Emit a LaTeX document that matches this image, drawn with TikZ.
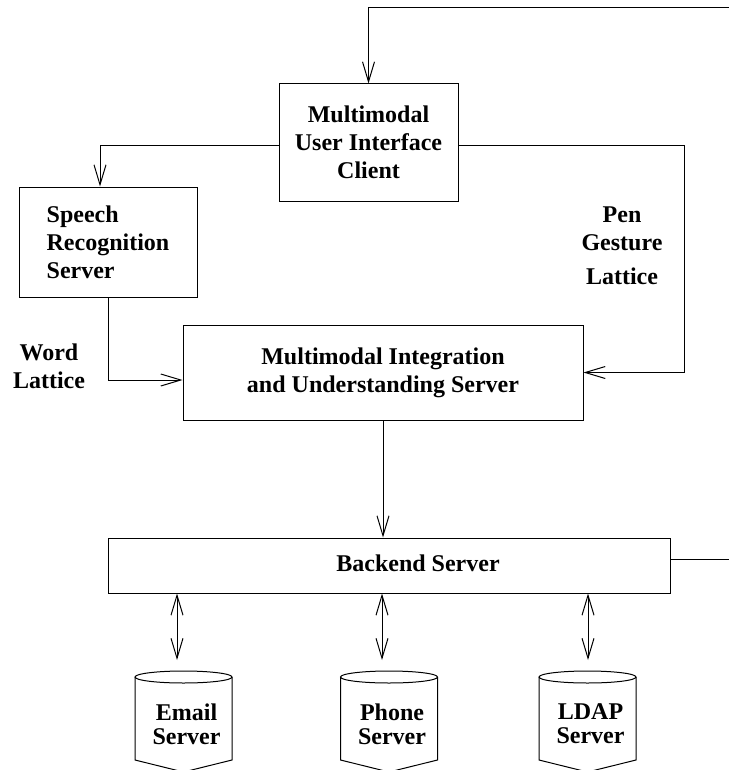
\documentclass[tikz,border=0pt]{standalone}
\usepackage{fontspec}
\setmainfont{Liberation Serif}
\usetikzlibrary{arrows.meta}

\tikzset{
  box/.style={draw, line width=1pt, inner sep=0pt},
  arr/.style={line width=1pt, -{Straight Barb[length=20pt,width=12pt]}},
  dblarr/.style={line width=1pt, {Straight Barb[length=20pt,width=12pt]}-{Straight Barb[length=20pt,width=12pt]}},
}

\begin{document}
\begin{tikzpicture}[x=1pt,y=-1pt,font=\fontsize{24}{28}\selectfont\bfseries]
\useasboundingbox (0,0) rectangle (728,770);
% boxes
\node[box, minimum width=179pt, minimum height=117pt, align=center] (mui) at (368.5,142.5) {Multimodal\\User Interface\\Client};
\node[box, minimum width=178pt, minimum height=110pt, align=left] (speech) at (108,242) {Speech\\Recognition\\Server};
\node[box, minimum width=400pt, minimum height=95pt, align=center] (integ) at (383,372.5) {Multimodal Integration\\and Understanding Server};
\node[box, minimum width=562pt, minimum height=55pt] (backend) at (389,565.5) {};
\node (backendtxt) at (418,563) {Backend Server};
% labels
\node[align=center] (wordlat) at (49,366) {Word\\Lattice};
\node[align=center] (penlat) at (622,246) {Pen\\Gesture\\[6pt]Lattice};
% connectors
\coordinate (topright) at (730,8);
\draw[arr] ([yshift=-3.5pt]mui.west) -| ([xshift=-8pt]speech.north);
\draw[arr] (speech.south) |- ([yshift=-7.5pt]integ.west);
\draw[arr] ([yshift=-3.5pt]mui.east) -- ++(226,0) |- (integ.east);
\draw[arr] (integ.south) -- (integ.south |- backend.north);
\draw[arr] ([yshift=6.5pt]backend.east) -| (topright) -| (mui.north);
% databases
\foreach \cx/\ax/\nm/\txt in {183.5/177/email/Email, 389/382/phone/Phone, 587.5/588/ldap/LDAP}{
  \draw[line width=1pt] (\cx-48.5,677) -- (\cx-48.5,760) -- (\cx,772) -- (\cx+48.5,760) -- (\cx+48.5,677);
  \draw[line width=1pt] (\cx,677) ellipse [x radius=48.5, y radius=6];
  \node[align=center] (\nm) at (\cx+3,724) {\txt\\[-4pt]Server};
  \coordinate (\nm top) at (\ax,660);
  \draw[dblarr] (backend.south -| \nm top) -- (\nm top);
}
\end{tikzpicture}
\end{document}
